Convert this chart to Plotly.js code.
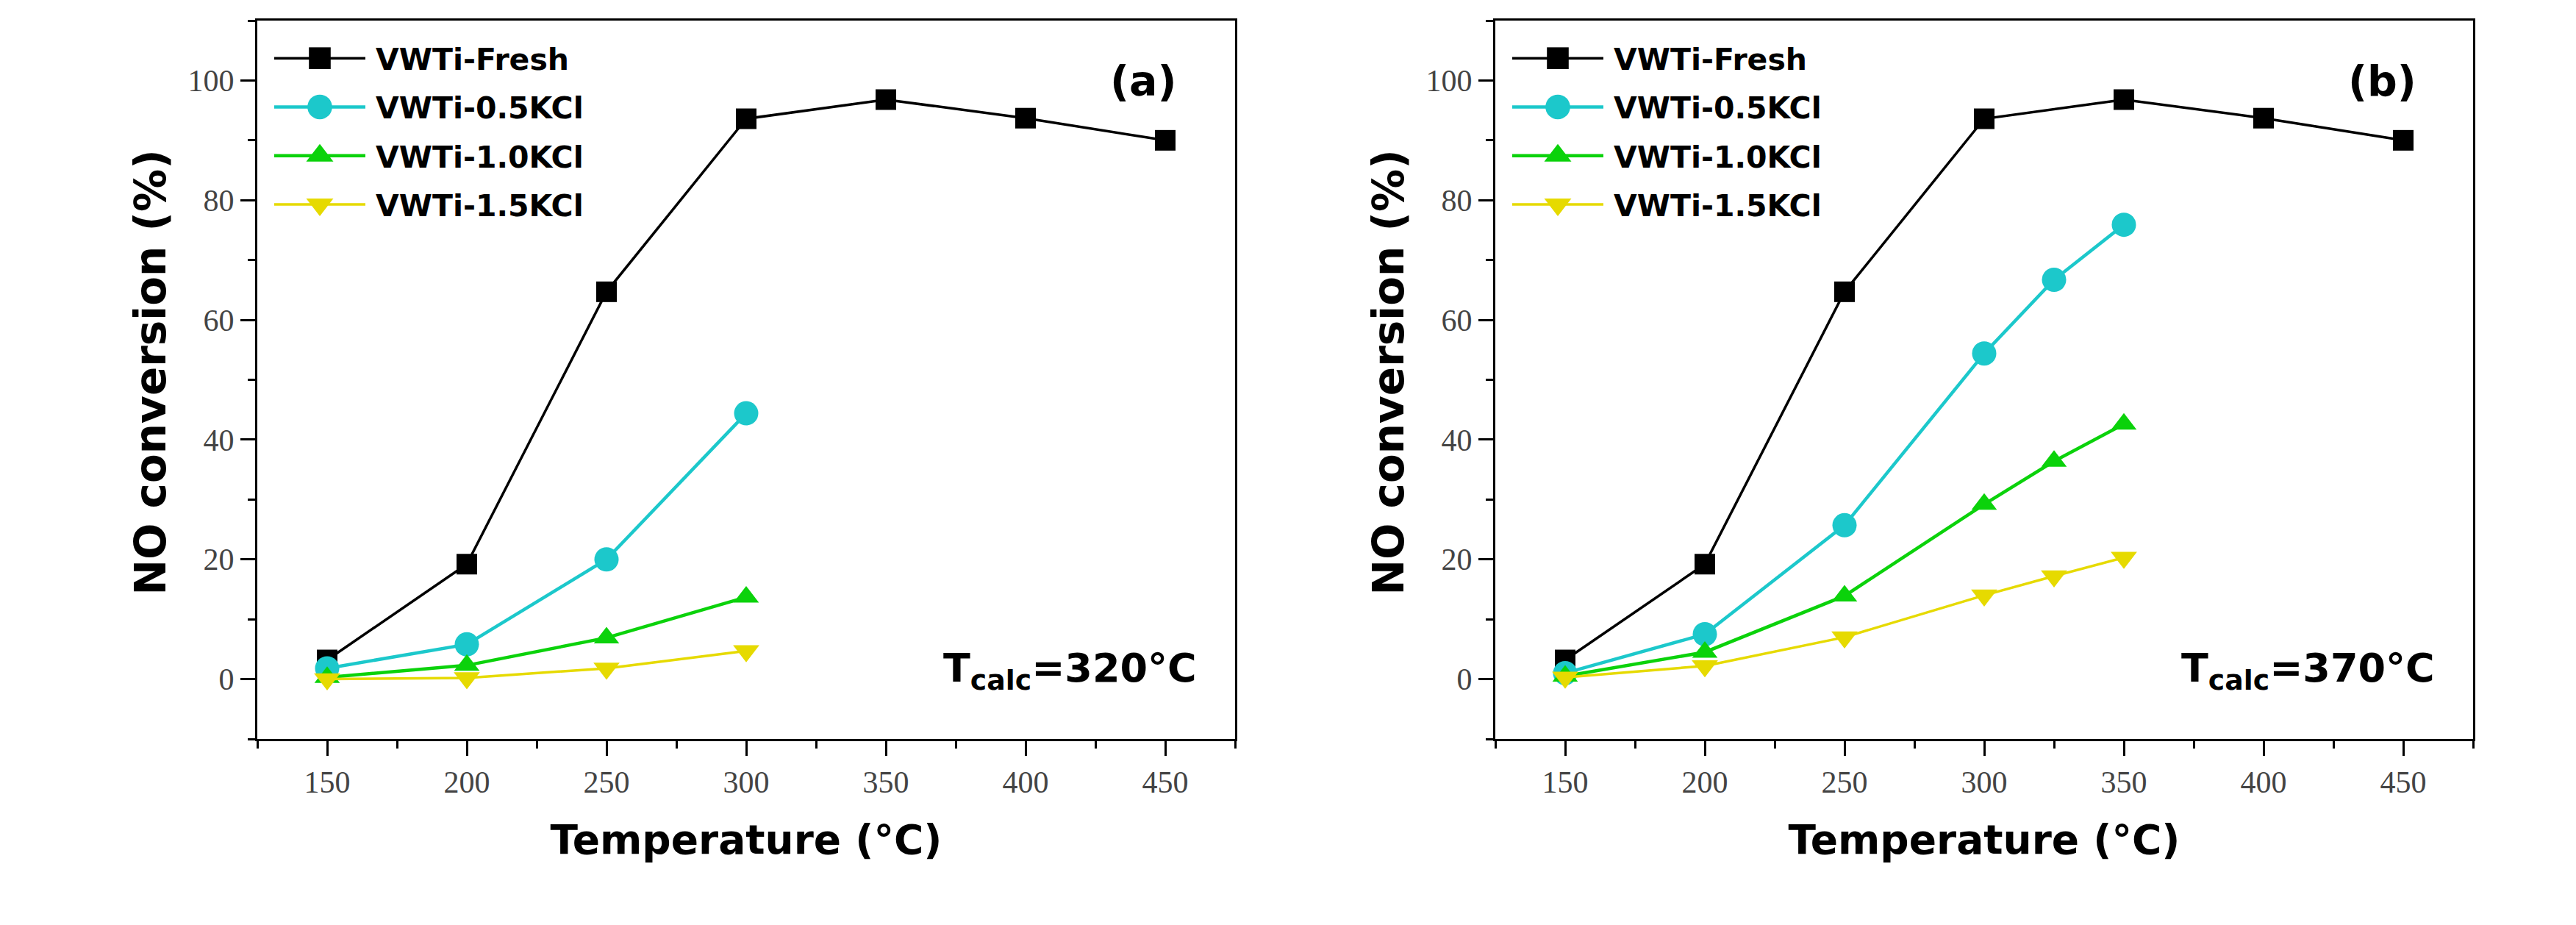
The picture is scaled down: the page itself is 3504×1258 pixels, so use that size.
<!DOCTYPE html>
<html>
<head>
<meta charset="utf-8">
<script src="https://cdn.plot.ly/plotly-3.0.1.min.js"></script>
<style>html,body{margin:0;padding:0;background:#fff;}#chart{width:3504px;height:1258px;}</style>
</head>
<body>
<div id="chart"></div>
<script>
// ---- data ----
const seriesNames = ["VWTi-Fresh", "VWTi-0.5KCl", "VWTi-1.0KCl", "VWTi-1.5KCl"];

// panel (a): T_calc = 320 °C
const tempA_fresh = [150, 200, 250, 300, 350, 400, 450];
const convA_fresh = [3.2, 19.2, 64.7, 93.6, 96.8, 93.7, 90.0];
const tempA_kcl = [150, 200, 250, 300];
const convA_05 = [1.8, 5.8, 20.0, 44.4];
const convA_10 = [0.3, 2.3, 6.9, 13.7];
const convA_15 = [0.0, 0.2, 1.8, 4.7];

// panel (b): T_calc = 370 °C
const tempB_fresh = [150, 200, 250, 300, 350, 400, 450];
const convB_fresh = [3.2, 19.2, 64.7, 93.6, 96.8, 93.7, 90.0];
const tempB_kcl = [150, 200, 250, 300, 325, 350];
const convB_05 = [1.0, 7.5, 25.7, 54.4, 66.7, 75.9];
const convB_10 = [0.5, 4.5, 13.9, 29.2, 36.4, 42.6];
const convB_15 = [0.3, 2.2, 7.0, 14.0, 17.2, 20.3];

const xTickVals = [150, 200, 250, 300, 350, 400, 450];
const yTickVals = [0, 20, 40, 60, 80, 100];
const xTitle = "Temperature (°C)";
const yTitle = "NO conversion (%)";
const panelLabels = ["(a)", "(b)"];
const calcLabels = ["T<sub>calc</sub>=320°C", "T<sub>calc</sub>=370°C"];

// ---- styles ----
const colors = ["#000000", "#1CC8CB", "#0BD20B", "#E6DA00"];
const symbols = ["square", "circle", "triangle-up", "triangle-down"];
const msizes = [28, 33, 30, 31];
const lwidths = [3.5, 4.5, 4.5, 3.5];
const legendScale = [1.85, 2.1, 2.0, 2.0];
const SANS = "DejaVu Sans, Verdana, sans-serif";
const SERIF = "Liberation Serif, Times New Roman, serif";

function mk(x, y, i, xa, ya, leg) {
  return {
    type: "scatter", mode: "lines+markers", x: x, y: y,
    name: seriesNames[i], xaxis: xa, yaxis: ya, legend: leg,
    legendgroup: leg + i,
    line: {color: colors[i], width: lwidths[i]},
    marker: {symbol: symbols[i], size: msizes[i], color: colors[i], line: {width: 0}},
    cliponaxis: false
  };
}

const traces = [
  mk(tempA_fresh, convA_fresh, 0, "x", "y", "legend"),
  mk(tempA_kcl, convA_05, 1, "x", "y", "legend"),
  mk(tempA_kcl, convA_10, 2, "x", "y", "legend"),
  mk(tempA_kcl, convA_15, 3, "x", "y", "legend"),
  mk(tempB_fresh, convB_fresh, 0, "x2", "y2", "legend2"),
  mk(tempB_kcl, convB_05, 1, "x2", "y2", "legend2"),
  mk(tempB_kcl, convB_10, 2, "x2", "y2", "legend2"),
  mk(tempB_kcl, convB_15, 3, "x2", "y2", "legend2")
];

const W = 3504, H = 1258;
const yDom = [(H - 1005) / H, (H - 28) / H];
const xDomA = [350 / W, 1680 / W];
const xDomB = [2034 / W, 3364 / W];

function xaxisDef(dom, anchor) {
  return {
    domain: dom, anchor: anchor, range: [125, 475],
    tickmode: "array", tickvals: xTickVals, ticktext: xTickVals.map(String),
    showline: true, mirror: true, linecolor: "#000", linewidth: 3,
    ticks: "outside", ticklen: 20, tickwidth: 3, tickcolor: "#000",
    minor: {dtick: 25, tick0: 125, ticks: "outside", ticklen: 10, tickwidth: 3, tickcolor: "#000", showgrid: false},
    showgrid: false, zeroline: false,
    tickfont: {family: SERIF, size: 42, color: "#444"},
    title: {text: "<b>" + xTitle + "</b>", font: {family: SANS, size: 55, color: "#000"}, standoff: 37},
    automargin: false, fixedrange: true
  };
}
function yaxisDef(dom, anchor) {
  return {
    domain: dom, anchor: anchor, range: [-10, 110],
    tickmode: "array", tickvals: yTickVals, ticktext: yTickVals.map(String),
    showline: true, mirror: true, linecolor: "#000", linewidth: 3,
    ticks: "outside", ticklen: 20, tickwidth: 3, tickcolor: "#000",
    minor: {dtick: 10, tick0: -10, ticks: "outside", ticklen: 10, tickwidth: 3, tickcolor: "#000", showgrid: false},
    showgrid: false, zeroline: false,
    tickfont: {family: SERIF, size: 42, color: "#444"},
    title: {text: "<b>\u00A0" + yTitle + "</b>", font: {family: SANS, size: 58, color: "#000"}, standoff: 12},
    automargin: false, fixedrange: true
  };
}

function legendDef(xpx) {
  return {
    x: xpx / W, y: (H - 46) / H, xanchor: "left", yanchor: "top",
    bgcolor: "rgba(0,0,0,0)", borderwidth: 0,
    font: {family: SANS, size: 41, color: "#000", weight: "bold"},
    tracegroupgap: 10, itemwidth: 150, itemsizing: "trace"
  };
}

function ann(text, xref, yref, x, y, size, xanchor, yanchor) {
  return {text: "<b>" + text + "</b>", xref: xref, yref: yref, x: x, y: y,
    xanchor: xanchor, yanchor: yanchor, showarrow: false,
    font: {family: SANS, size: size, color: "#000"}};
}

const layout = {
  width: W, height: H,
  margin: {l: 0, r: 0, t: 0, b: 0},
  paper_bgcolor: "#fff", plot_bgcolor: "#fff",
  showlegend: true,
  xaxis: xaxisDef(xDomA, "y"),
  yaxis: yaxisDef(yDom, "x"),
  xaxis2: xaxisDef(xDomB, "y2"),
  yaxis2: yaxisDef(yDom, "x2"),
  legend: legendDef(351),
  legend2: legendDef(2035),
  annotations: [
    ann(panelLabels[0], "x domain", "y domain", (1556 - 350) / 1330, (1005 - 110) / 977, 57, "center", "middle"),
    ann(panelLabels[1], "x2 domain", "y2 domain", (1556 - 350) / 1330, (1005 - 110) / 977, 57, "center", "middle"),
    ann(calcLabels[0], "x domain", "y domain", (1630 - 350) / 1330, (1005 - 912) / 977, 54, "right", "middle"),
    ann(calcLabels[1], "x2 domain", "y2 domain", (1630 - 350) / 1330, (1005 - 912) / 977, 54, "right", "middle")
  ]
};

// enlarge legend glyphs (Plotly caps legend marker size at 16px)
function enlargeLegend(gd) {
  gd.querySelectorAll("g.infolayer g.traces").forEach(function (tr) {
    const txt = tr.querySelector("text");
    if (!txt) return;
    const idx = seriesNames.indexOf(txt.textContent.trim());
    if (idx < 0) return;
    const tx = parseFloat(txt.getAttribute("x")) || 160;
    const cx = tx - 76;
    tr.querySelectorAll("path.js-line").forEach(function (ln) {
      ln.setAttribute("d", "M" + (cx - 62) + ",0h124");
    });
    tr.querySelectorAll("path.scatterpts").forEach(function (pt) {
      pt.setAttribute("transform", "translate(" + cx + ",0) scale(" + legendScale[idx] + ")");
    });
  });
}

const gdEl = document.getElementById("chart");
Plotly.newPlot(gdEl, traces, layout, {displayModeBar: false, staticPlot: true}).then(function (gd) {
  enlargeLegend(gd);
  setTimeout(function () { enlargeLegend(gd); }, 50);
  setTimeout(function () { enlargeLegend(gd); }, 300);
});
</script>
</body>
</html>
